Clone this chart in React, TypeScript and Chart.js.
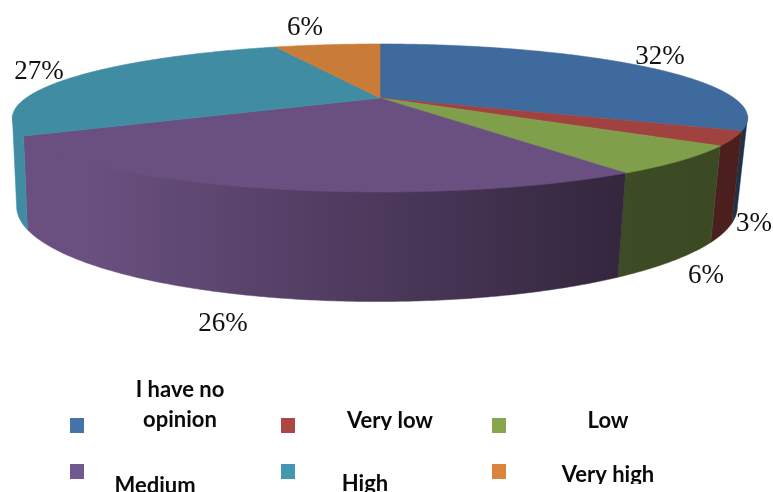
import React, { useEffect, useRef } from "react";
import { Chart, ArcElement, PieController } from "chart.js";

const categories = ["I have no opinion", "Very low", "Low", "Medium", "High", "Very high"];
const shares = [32, 3, 6, 26, 27, 6];
const sliceColors = ["#3f6a9e", "#a04340", "#7f9f4b", "#6a5080", "#3f8ca3", "#c97b38"];
const swatchColors = ["#4674aa", "#aa4644", "#89a54e", "#71588f", "#4198af", "#db843d"];

// Label lines, one row per text: [category index, text, centre x, baseline y, clip bottom]
const legendLines: [number, string, number, number, number][] = [
  [0, "I have no", 180, 397, 492],
  [0, "opinion", 180, 427, 492],
  [1, "Very low", 390, 428, 430],
  [2, "Low", 608, 428, 492],
  [3, "Medium", 155, 493, 492],
  [4, "High", 365, 491, 492],
  [5, "Very high", 608, 482, 484],
];
const swatchSpots: [number, number][] = [
  [70, 418], [281, 418], [492, 418], [70, 464], [281, 464], [492, 464],
];
const percentSpots: [number, number][] = [
  [660, 64], [754, 231], [706, 283], [223, 331], [39, 79], [305, 35],
];

// Perspective model of the disc: top face and lower rim of the cylinder.
const TOP = { cx: 380, cy: 98, a: 354, k: 68.6, p: 0.27 };
const RIM = { cx: 377, cy: 181, a: 347, k: 88, p: 0.27 };
// Angles between these two are the ones whose outer wall faces the viewer.
const FRONT_START = Math.asin(TOP.p);
const FRONT_END = Math.PI - FRONT_START;

function project(face: typeof TOP, angle: number): [number, number] {
  const u = Math.cos(angle);
  const v = Math.sin(angle);
  const w = 1 - face.p * v;
  return [face.cx + (face.a * u) / w, face.cy + (face.k * v) / w];
}

function samples(start: number, end: number): number[] {
  const n = Math.max(2, Math.ceil((end - start) / 0.01));
  return Array.from({ length: n + 1 }, (_, i) => start + ((end - start) * i) / n);
}

function scaleColor(hex: string, f: number): string {
  const n = parseInt(hex.slice(1), 16);
  const ch = [(n >> 16) & 255, (n >> 8) & 255, n & 255].map((c) => Math.round(c * f));
  return `rgb(${ch[0]},${ch[1]},${ch[2]})`;
}

class PerspectiveArc extends ArcElement {
  static id = "perspectiveArc";
  draw(ctx: CanvasRenderingContext2D) {
    const self = this as any;
    ctx.save();
    ctx.beginPath();
    ctx.moveTo(TOP.cx, TOP.cy);
    for (const t of samples(self.startAngle, self.endAngle)) {
      const [x, y] = project(TOP, t);
      ctx.lineTo(x, y);
    }
    ctx.closePath();
    ctx.fillStyle = self.options.backgroundColor;
    ctx.strokeStyle = self.options.backgroundColor;
    ctx.lineWidth = 0.6;
    ctx.fill();
    ctx.stroke();
    ctx.restore();
  }
}

class PerspectivePie extends PieController {
  static id = "perspectivePie";
  static defaults = { ...PieController.defaults, dataElementType: "perspectiveArc" };
  static overrides = PieController.overrides;
}

Chart.register(PerspectiveArc as any, PerspectivePie as any);

const cylinderWall = {
  id: "cylinderWall",
  beforeDatasetsDraw(chart: any) {
    const ctx: CanvasRenderingContext2D = chart.ctx;
    chart.getDatasetMeta(0).data.forEach((arc: any, i: number) => {
      const start = Math.max(arc.startAngle, FRONT_START);
      const end = Math.min(arc.endAngle, FRONT_END);
      if (end <= start) return;
      const ts = samples(start, end);
      // The upper edge sits a little above the top face's edge, so the face overlaps it.
      ctx.beginPath();
      ts.forEach((t, j) => {
        const [x, y] = project(TOP, t);
        if (j === 0) ctx.moveTo(x, y - 2);
        else ctx.lineTo(x, y - 2);
      });
      [...ts].reverse().forEach((t) => {
        const [x, y] = project(RIM, t);
        ctx.lineTo(x, y);
      });
      ctx.closePath();
      // Shading falls off from left to right across the whole cylinder.
      const g = ctx.createLinearGradient(12, 0, 748, 0);
      g.addColorStop(0, scaleColor(sliceColors[i], 1));
      g.addColorStop(0.1, scaleColor(sliceColors[i], 1));
      g.addColorStop(0.83, scaleColor(sliceColors[i], 0.48));
      g.addColorStop(1, scaleColor(sliceColors[i], 0.46));
      ctx.fillStyle = g;
      ctx.strokeStyle = g;
      ctx.lineWidth = 0.5;
      ctx.fill();
      ctx.stroke();
    });
  },
};

const annotations = {
  id: "annotations",
  afterDatasetsDraw(chart: any) {
    const ctx: CanvasRenderingContext2D = chart.ctx;
    ctx.save();
    ctx.textAlign = "center";
    ctx.textBaseline = "alphabetic";
    ctx.fillStyle = "#111111";
    ctx.font = '27px "Liberation Serif"';
    shares.forEach((s, i) => {
      ctx.fillText(`${s}%`, percentSpots[i][0], percentSpots[i][1]);
    });
    swatchColors.forEach((c, i) => {
      ctx.fillStyle = c;
      ctx.fillRect(swatchSpots[i][0], swatchSpots[i][1], 14, 15);
    });
    ctx.fillStyle = "#0a0a0a";
    ctx.font = "bold 22px Lato";
    for (const [, text, x, y, clipY] of legendLines) {
      ctx.save();
      ctx.beginPath();
      ctx.rect(0, 0, 773, clipY);
      ctx.clip();
      ctx.fillText(text, x, y);
      ctx.restore();
    }
    ctx.restore();
  },
};

export default function App() {
  const canvasRef = useRef<HTMLCanvasElement>(null);
  useEffect(() => {
    const chart = new Chart(canvasRef.current as HTMLCanvasElement, {
      type: "perspectivePie" as any,
      data: {
        labels: categories,
        datasets: [{ data: shares, backgroundColor: sliceColors, borderWidth: 0 }],
      },
      options: {
        animation: false,
        responsive: false,
        plugins: { legend: { display: false }, tooltip: { enabled: false } },
      } as any,
      plugins: [cylinderWall, annotations],
    });
    return () => chart.destroy();
  }, []);
  return (
    <div style={{ position: "fixed", left: 0, top: 0, width: 773, height: 492, background: "#fff" }}>
      <canvas ref={canvasRef} width={773} height={492} style={{ display: "block" }} />
    </div>
  );
}
